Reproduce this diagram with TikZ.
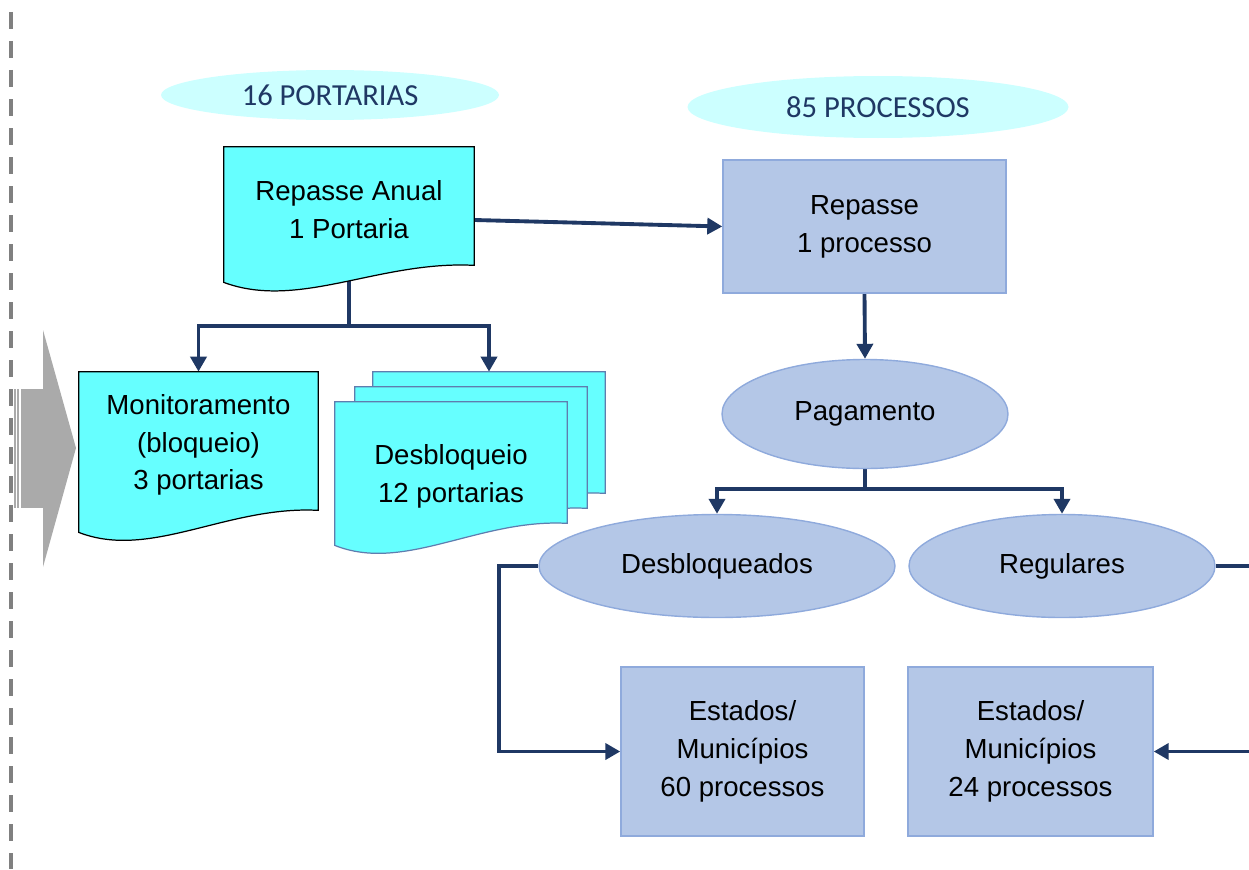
\documentclass[tikz,border=0pt]{standalone}
\usepackage{fontspec}
\setmainfont{Liberation Sans}
\newfontfamily\cabfont{Carlito}
\usetikzlibrary{arrows.meta,shapes,calc}
\definecolor{azulescuro}{RGB}{31,56,100}
\definecolor{ciano}{RGB}{102,255,255}
\definecolor{cianoclaro}{RGB}{204,255,255}
\definecolor{azulclaro}{RGB}{180,199,231}
\definecolor{azulborda}{RGB}{143,170,220}
\definecolor{bordapilha}{RGB}{95,125,175}
\definecolor{setacinza}{RGB}{170,170,170}
\pgfdeclarelayer{linhas}
\pgfdeclarelayer{fundo}
\pgfsetlayers{linhas,fundo,main}

% document outline with wavy bottom, drawn round a node (raised by #4)
\newcommand{\folha}[4][0.44cm]{%
  \path[#3] let \p1=($(#2.south west)+(0,#4)$), \p2=($(#2.north east)+(0,#4)$) in
    (\x1,\y2) -- (\x2,\y2) -- (\x2,\y1)
    .. controls ({\x2-0.38*(\x2-\x1)},{\y1+0.1cm}) and ({\x1+0.3*(\x2-\x1)},{\y1-#1-0.56cm}) .. (\x1,{\y1-#1}) -- cycle;}

\begin{document}
\begin{tikzpicture}
% STYLES
\tikzset{%
    texto/.style={%
font=\fontsize{15.7}{21.5}\selectfont,
align=center,
inner sep=0pt
                 },
    portaria/.style={texto, rectangle},
    folhapreta/.style={fill=ciano, draw=black, line width=0.7pt},
    folhaazul/.style={fill=ciano, draw=bordapilha, line width=0.7pt},
    processo/.style={texto, rectangle, fill=azulclaro, draw=azulborda, line width=0.8pt},
    balao/.style={texto, ellipse, fill=azulclaro, draw=azulborda, line width=0.8pt},
    cabecalho/.style={ellipse, fill=cianoclaro, inner sep=0pt, text=azulescuro,
                      font=\cabfont\fontsize{17.4}{20}\selectfont},
    ligacao/.style={draw=azulescuro, line width=2.2pt, -{Triangle[length=0.3cm,width=0.32cm]}}
             }
\useasboundingbox (0,0) rectangle (24.98,-17.38);

% Dashed margin and grey arrow
\draw[gray, line width=0.08cm, dash pattern=on 0.34cm off 0.24cm] (0.22,-0.24) -- (0.22,-17.38);
\fill[setacinza] (0.28,-7.78) rectangle (0.31,-10.16);
\fill[setacinza] (0.34,-7.78) rectangle (0.37,-10.16);
\fill[setacinza] (0.41,-7.78) rectangle (0.87,-10.16);
\fill[setacinza] (0.86,-6.6) -- (1.52,-8.96) -- (0.86,-11.34) -- cycle;

% Headers
\node [cabecalho, minimum width=6.76cm, minimum height=1cm] (cabport) at (6.6,-1.9) {16 PORTARIAS};
\node [cabecalho, minimum width=7.62cm, minimum height=1.24cm] (cabproc) at (17.56,-2.14) {85 PROCESSOS};

% Draw portarias
\node [portaria, minimum width=5cm, minimum height=2.36cm] (anual) at (6.98,-4.2) {Repasse Anual\\1 Portaria};
\node [portaria, minimum width=4.78cm, minimum height=2.76cm] (monit) at (3.97,-8.9) {Monitoramento\\(bloqueio)\\3 portarias};
\node [portaria, minimum width=4.64cm, minimum height=2.42cm] (desbtras) at (9.78,-8.65) {};
\node [portaria, minimum width=4.64cm, minimum height=2.42cm] (desbmeio) at (9.42,-8.95) {};
\node [portaria, minimum width=4.64cm, minimum height=2.42cm] (desbloq) at (9.02,-9.53) {Desbloqueio\\12 portarias};

\begin{pgfonlayer}{fundo}
\folha[0.34cm]{anual}{folhapreta}{0.08cm}
\folha{monit}{folhapreta}{0.08cm}
\folha{desbtras}{folhaazul}{0cm}
\folha{desbmeio}{folhaazul}{0cm}
\folha{desbloq}{folhaazul}{0.28cm}
\end{pgfonlayer}

% Draw processos
\node [processo, minimum width=5.66cm, minimum height=2.66cm] (repasse) at (17.29,-4.53) {Repasse\\1 processo};
\node [balao, minimum width=5.72cm, minimum height=2.18cm] (pag) at (17.3,-8.28) {Pagamento};
\node [balao, minimum width=7.12cm, minimum height=2.06cm] (desbl) at (14.34,-11.32) {Desbloqueados};
\node [balao, minimum width=6.12cm, minimum height=2.06cm] (reg) at (21.24,-11.32) {Regulares};
\node [processo, minimum width=4.86cm, minimum height=3.38cm] (est60) at (14.85,-15.03) {Estados/\\Municípios\\60 processos};
\node [processo, minimum width=4.9cm, minimum height=3.38cm] (est24) at (20.61,-15.03) {Estados/\\Municípios\\24 processos};

% Draw the links
\begin{pgfonlayer}{linhas}
\path[ligacao] ([yshift=-0.2cm]anual.east) -- (repasse.west);
\path[ligacao] (anual.south) -- ++(0,-1.14) -| ([yshift=0.08cm]monit.north);
\path[ligacao] (anual.south) -- ++(0,-1.14) -| (desbtras.north);
\path[ligacao] (repasse.south) -- (pag.north);
\path[ligacao] (pag.south) -- ++(0,-0.4) -| (desbl.north);
\path[ligacao] (pag.south) -- ++(0,-0.4) -| (reg.north);
\path[ligacao] (desbl.west) -- ++(-0.78,0) |- (est60.west);
\path[ligacao] (reg.east) -- ++(1.2,0) |- (est24.east);
\end{pgfonlayer}
\end{tikzpicture}
\end{document}
